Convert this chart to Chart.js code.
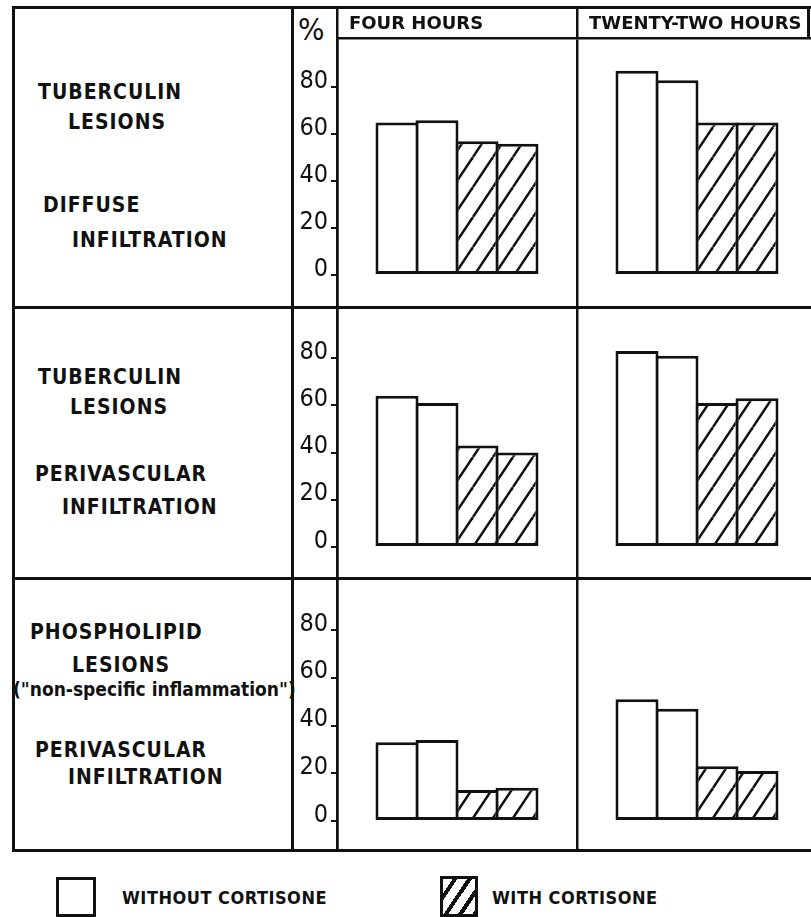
<!DOCTYPE html>
<html><head><meta charset="utf-8">
<script src="https://cdn.jsdelivr.net/npm/chart.js@4.4.1/dist/chart.umd.min.js"></script>
<style>
html,body{margin:0;padding:0;background:#fff;}
body{width:811px;height:917px;overflow:hidden;position:relative;font-family:"DejaVu Sans Condensed","DejaVu Sans",sans-serif;color:#111;}
.ln{position:absolute;background:#111;}
.lab{position:absolute;font-weight:bold;font-size:21px;line-height:21px;letter-spacing:1px;white-space:nowrap;}
.leg{position:absolute;font-weight:bold;font-size:18px;line-height:18px;letter-spacing:0.5px;white-space:nowrap;}
canvas{position:absolute;}
</style></head><body>

<!-- frame lines -->
<div class="ln" style="left:12px;top:6px;width:820px;height:3px"></div>
<div class="ln" style="left:12px;top:6px;width:3px;height:846px"></div>
<div class="ln" style="left:12px;top:849px;width:820px;height:3px"></div>
<div class="ln" style="left:291px;top:6px;width:3px;height:846px"></div>
<div class="ln" style="left:12px;top:306px;width:820px;height:2.5px"></div>
<div class="ln" style="left:12px;top:577px;width:820px;height:2.5px"></div>
<div class="ln" style="left:807px;top:6px;width:2.5px;height:33px"></div>

<!-- row labels -->
<div class="lab" style="left:38px;top:82px">TUBERCULIN</div>
<div class="lab" style="left:68px;top:112px">LESIONS</div>
<div class="lab" style="left:43px;top:195px">DIFFUSE</div>
<div class="lab" style="left:72px;top:230px">INFILTRATION</div>

<div class="lab" style="left:38px;top:367px">TUBERCULIN</div>
<div class="lab" style="left:70px;top:397px">LESIONS</div>
<div class="lab" style="left:35px;top:464px">PERIVASCULAR</div>
<div class="lab" style="left:62px;top:497px">INFILTRATION</div>

<div class="lab" style="left:30px;top:622px">PHOSPHOLIPID</div>
<div class="lab" style="left:72px;top:655px">LESIONS</div>
<div class="lab" style="left:13px;top:679px;letter-spacing:0;font-size:19px">("non-specific inflammation")</div>
<div class="lab" style="left:35px;top:740px">PERIVASCULAR</div>
<div class="lab" style="left:68px;top:767px">INFILTRATION</div>

<div style="position:absolute;left:298px;top:14px;font-size:31px;line-height:31px;">%</div>

<canvas id="c1" width="524" height="300" style="left:293px;top:7px"></canvas>
<canvas id="c2" width="524" height="271" style="left:293px;top:307px"></canvas>
<canvas id="c3" width="524" height="272" style="left:293px;top:578px"></canvas>

<!-- legend -->
<div style="position:absolute;left:56px;top:877px;width:40px;height:40px;border:3px solid #111;box-sizing:border-box;background:#fff"></div>
<div class="leg" style="left:122px;top:889px">WITHOUT CORTISONE</div>
<div style="position:absolute;left:440px;top:876px;width:38px;height:41px;border:3px solid #111;box-sizing:border-box;background:repeating-linear-gradient(124deg,#fff 0 8px,#111 8px 12px)"></div>
<div class="leg" style="left:492px;top:889px">WITH CORTISONE</div>

<script>
// ---- data ----
const panels = ['FOUR HOURS', 'TWENTY-TWO HOURS'];
const yTicks = [0, 20, 40, 60, 80];
const seriesNames = ['Without cortisone (1)', 'Without cortisone (2)', 'With cortisone (1)', 'With cortisone (2)'];
// Row 1: tuberculin lesions, diffuse infiltration
const diffuseWithout1 = [65, 87];
const diffuseWithout2 = [66, 83];
const diffuseWith1 = [57, 65];
const diffuseWith2 = [56, 65];
// Row 2: tuberculin lesions, perivascular infiltration
const periWithout1 = [64, 83];
const periWithout2 = [61, 81];
const periWith1 = [43, 61];
const periWith2 = [40, 63];
// Row 3: phospholipid lesions, perivascular infiltration
const phosWithout1 = [33, 51];
const phosWithout2 = [34, 47];
const phosWith1 = [13, 23];
const phosWith2 = [14, 21];

const INK = '#111';
Chart.defaults.font.family = '"DejaVu Sans Condensed","DejaVu Sans",sans-serif';
Chart.defaults.color = INK;

function hatch() {
  const c = document.createElement('canvas');
  c.width = 20; c.height = 30;
  const g = c.getContext('2d');
  g.fillStyle = '#fff'; g.fillRect(0, 0, 20, 30);
  g.strokeStyle = INK; g.lineWidth = 2.5;
  for (const k of [-1, 0, 1]) {
    g.beginPath(); g.moveTo(k * 20, 30); g.lineTo(k * 20 + 20, 0); g.stroke();
  }
  return g.createPattern(c, 'repeat');
}

function makeRow(id, s1, s2, s3, s4, yMin, yMax, header) {
  const pat = hatch();
  const fills = ['#fff', '#fff', pat, pat];
  const series = [s1, s2, s3, s4];
  const xScale = header ? {
    position: 'top', offset: true,
    grid: { offset: true, color: INK, lineWidth: 2.5, drawOnChartArea: true, drawTicks: true, tickLength: 31 },
    border: { display: true, color: INK, width: 2.5 },
    ticks: { align: 'start', labelOffset: -108, padding: -28, autoSkip: false, maxRotation: 0,
             font: { family: '"DejaVu Sans",sans-serif', weight: 'bold', size: 18 } },
    afterFit: s => { s.height = 31; s.paddingLeft = 0; s.paddingRight = 0; }
  } : {
    position: 'bottom', offset: true,
    grid: { offset: true, color: INK, lineWidth: 2.5, drawOnChartArea: true, drawTicks: false },
    border: { display: false },
    ticks: { display: false },
    afterFit: s => { s.height = 0; s.paddingLeft = 0; s.paddingRight = 0; }
  };
  return new Chart(document.getElementById(id), {
    type: 'bar',
    data: {
      labels: panels,
      datasets: series.map((d, i) => ({
        label: seriesNames[i], data: d,
        backgroundColor: fills[i], borderColor: INK, borderWidth: 3, borderSkipped: false,
        barPercentage: 1.075, categoryPercentage: 0.6667
      }))
    },
    options: {
      responsive: false, animation: false, events: [],
      layout: { padding: 0 },
      plugins: { legend: { display: false }, tooltip: { enabled: false } },
      scales: {
        x: xScale,
        y: {
          min: yMin, max: yMax,
          afterBuildTicks: s => { s.ticks = yTicks.map(v => ({ value: v })); },
          grid: { drawOnChartArea: false, drawTicks: true, tickLength: 6, color: INK, lineWidth: 2 },
          border: { display: true, color: INK, width: 2.5 },
          ticks: { padding: 3, labelOffset: -6, font: { size: 25 } },
          afterFit: s => { s.width = 44; s.paddingTop = 0; s.paddingBottom = 0; }
        }
      }
    }
  });
}

makeRow('c1', diffuseWithout1, diffuseWithout2, diffuseWith1, diffuseWith2, -13.6, 101, true);
makeRow('c2', periWithout1, periWithout2, periWith1, periWith2, -13.1, 101.6, false);
makeRow('c3', phosWithout1, phosWithout2, phosWith1, phosWith2, -12.1, 101.8, false);
</script>
</body></html>
